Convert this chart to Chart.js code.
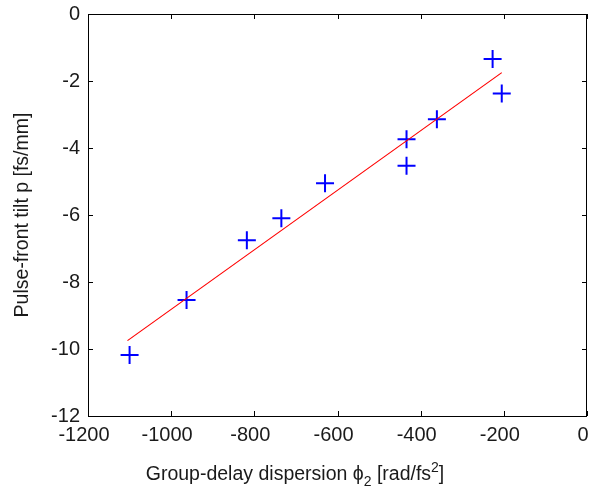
<!DOCTYPE html>
<html>
<head>
<meta charset="utf-8">
<script src="https://cdn.jsdelivr.net/npm/chart.js@4.4.1/dist/chart.umd.min.js"></script>
<style>
  body { margin: 0; background: #fff; }
  #wrap { width: 589px; height: 493px; }
</style>
</head>
<body>
<div id="wrap"><canvas id="chart"></canvas></div>
<script>
// measured points: group-delay dispersion vs pulse-front tilt
const gdd = [-1100, -963, -818, -735, -630, -434, -434, -361, -227, -205];
const tilt = [-10.18, -8.54, -6.75, -6.1, -5.05, -3.74, -4.53, -3.14, -1.34, -2.37];
// linear fit endpoints
const fitX = [-1105, -205];
const fitY = [-9.75, -1.75];
const xTickVals = [-1200, -1000, -800, -600, -400, -200, 0];
const yTickVals = [-12, -10, -8, -6, -4, -2, 0];

const FONT = "'Liberation Sans', Arial, sans-serif";
const txt = "#1a1a1a";

// inward tick marks on all four sides + the axes box, plus x title with sub/sup
const boxTicks = {
  id: "boxTicks",
  afterDraw(chart) {
    const { ctx, chartArea: a, scales } = chart;
    const x = scales.x, y = scales.y;
    ctx.save();
    ctx.strokeStyle = "#000";
    ctx.lineWidth = 1;
    ctx.beginPath();
    xTickVals.forEach(v => {
      const px = Math.round(x.getPixelForValue(v)) + 0.5;
      ctx.moveTo(px, a.bottom); ctx.lineTo(px, a.bottom - 5);
      ctx.moveTo(px, a.top); ctx.lineTo(px, a.top + 5);
    });
    yTickVals.forEach(v => {
      const py = Math.round(y.getPixelForValue(v)) + 0.5;
      ctx.moveTo(a.left, py); ctx.lineTo(a.left + 5, py);
      ctx.moveTo(a.right, py); ctx.lineTo(a.right - 5, py);
    });
    ctx.stroke();
    ctx.strokeRect(Math.round(a.left) + 0.5, Math.round(a.top) + 0.5,
      Math.round(a.right - a.left) - 1, Math.round(a.bottom - a.top));

    // x axis title
    const parts = [
      ["Group-delay dispersion \u03d5", 0, 19.5],
      ["2", 6, 14],
      [" [rad/fs", 0, 19.5],
      ["2", -8, 14],
      ["]", 0, 19.5]
    ];
    let w = 0;
    parts.forEach(p => { ctx.font = p[2] + "px " + FONT; w += ctx.measureText(p[0]).width; });
    let cx = a.left + 207 - w / 2;
    const base = 480;
    ctx.fillStyle = txt;
    ctx.textBaseline = "alphabetic";
    ctx.textAlign = "left";
    parts.forEach(p => {
      ctx.font = p[2] + "px " + FONT;
      ctx.fillText(p[0], cx, base + p[1]);
      cx += ctx.measureText(p[0]).width;
    });
    ctx.restore();
  }
};

new Chart(document.getElementById("chart"), {
  type: "scatter",
  data: {
    datasets: [
      {
        label: "fit",
        type: "line",
        data: fitX.map((v, i) => ({ x: v, y: fitY[i] })),
        borderColor: "#ff0000",
        borderWidth: 1.2,
        pointRadius: 0,
        fill: false
      },
      {
        label: "measured",
        data: gdd.map((v, i) => ({ x: v, y: tilt[i] })),
        pointStyle: "cross",
        pointRadius: 9,
        borderColor: "#0000ff",
        backgroundColor: "#0000ff",
        borderWidth: 2
      }
    ]
  },
  options: {
    responsive: true,
    maintainAspectRatio: false,
    animation: false,
    layout: { autoPadding: false, padding: { top: 14, right: 2, left: 0, bottom: 0 } },
    plugins: { legend: { display: false }, tooltip: { enabled: false } },
    scales: {
      x: {
        type: "linear",
        min: -1200,
        max: 0,
        afterBuildTicks: s => { s.ticks = xTickVals.map(v => ({ value: v })); },
        afterFit: s => { s.height = 77; s.paddingLeft = 0; s.paddingRight = 0; },
        grid: { display: false, drawTicks: false },
        border: { display: false },
        ticks: {
          color: txt, font: { family: FONT, size: 20 }, padding: 7, maxRotation: 0,
          labelOffset: -4,
          callback: v => String(v)
        }
      },
      y: {
        type: "linear",
        min: -12,
        max: 0,
        afterBuildTicks: s => { s.ticks = yTickVals.map(v => ({ value: v })); },
        afterFit: s => { s.width = 88; s.paddingTop = 0; s.paddingBottom = 0; },
        grid: { display: false, drawTicks: false },
        border: { display: false },
        ticks: {
          color: txt, font: { family: FONT, size: 20 }, padding: 8,
          callback: v => String(v)
        },
        title: {
          display: true,
          text: "Pulse-front tilt p [fs/mm]",
          color: txt,
          font: { family: FONT, size: 19.5 },
          padding: { top: 11, bottom: 0 }
        }
      }
    }
  },
  plugins: [boxTicks]
});
</script>
</body>
</html>
